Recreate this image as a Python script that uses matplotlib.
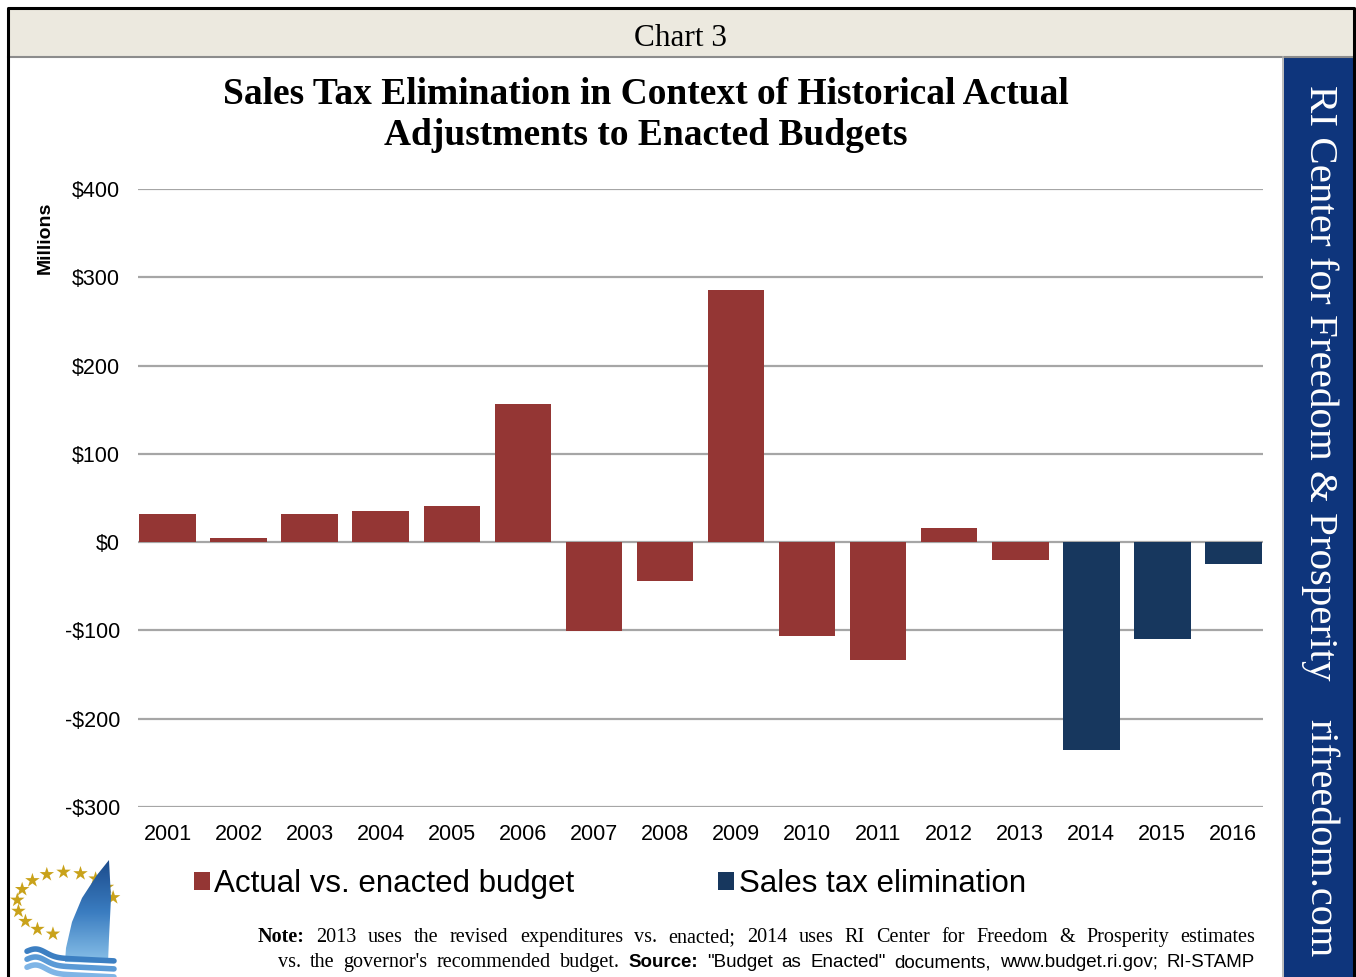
import numpy as np
import matplotlib.pyplot as plt
from matplotlib.patches import Rectangle, Polygon
from matplotlib.lines import Line2D
from matplotlib.colors import LinearSegmentedColormap

# Budget adjustments, millions of dollars
years = ["2001", "2002", "2003", "2004", "2005", "2006", "2007", "2008",
         "2009", "2010", "2011", "2012", "2013", "2014", "2015", "2016"]
actual_years = years[:13]
actual_vs_enacted = [32, 5, 32, 35, 41, 157, -101, -44, 286, -106, -134, 16, -20]
tax_years = years[13:]
sales_tax_elim = [-235, -110, -25]

y_ticks = [-300, -200, -100, 0, 100, 200, 300, 400]
y_labels = ["-$300", "-$200", "-$100", "$0", "$100", "$200", "$300", "$400"]

RED = "#943634"
NAVY = "#17375E"
BAND = "#0E357C"
HEADER = "#ECE9DF"
GOLD = "#C9A21A"

W, H = 1356, 977
fig = plt.figure(figsize=(W / 100, H / 100), dpi=100)
fig.patch.set_facecolor("white")


def fx(x):
    return x / W


def fy(y):
    return 1 - y / H


# frame, header strip and side band
fig.patches.append(Rectangle((fx(8), fy(57)), fx(1354) - fx(8), fy(8) - fy(57),
                             transform=fig.transFigure, facecolor=HEADER,
                             edgecolor="none", zorder=0))
fig.patches.append(Rectangle((fx(1284), 0), fx(1354) - fx(1284), fy(57),
                             transform=fig.transFigure, facecolor=BAND,
                             edgecolor="none", zorder=0))
fig.lines.append(Line2D([fx(8), fx(1354)], [fy(57), fy(57)], transform=fig.transFigure,
                        color="#8C8C8C", lw=1.5))
fig.lines.append(Line2D([fx(1283), fx(1283)], [0, fy(57)], transform=fig.transFigure,
                        color="#B0B0B0", lw=1.2))
fig.lines.append(Line2D([fx(8), fx(8), fx(1354), fx(1354)], [0, fy(8), fy(8), 0],
                        transform=fig.transFigure, color="black", lw=2.2))

fig.text(fx(680), fy(38), "Chart 3", ha="center", va="center",
         family="Liberation Serif", fontsize=22.5)

fig.text(fx(1320), fy(383), "RI Center for Freedom & Prosperity", rotation=-90,
         ha="center", va="center", color="white", family="Liberation Serif", fontsize=29.5)
fig.text(fx(1320), fy(838), "rifreedom.com", rotation=-90,
         ha="center", va="center", color="white", family="Liberation Serif", fontsize=29)

fig.text(fx(646), fy(115),
         "Sales Tax Elimination in Context of Historical Actual\nAdjustments to Enacted Budgets",
         ha="center", va="center", family="Liberation Serif", fontweight="bold",
         fontsize=27, linespacing=1.22)

# main chart
ax = fig.add_axes([fx(138), fy(807), fx(1263) - fx(138), fy(189) - fy(807)])
b1 = ax.bar(actual_years, actual_vs_enacted, width=0.8, color=RED, zorder=3)
b2 = ax.bar(tax_years, sales_tax_elim, width=0.8, color=NAVY, zorder=3)
ax.set_xlim(-0.42, 15.42)
ax.set_ylim(-300, 400)
ax.set_yticks(y_ticks, y_labels)
ax.yaxis.grid(True, color="#A6A6A6", lw=1.6, zorder=0)
ax.set_axisbelow(True)
for s in ax.spines.values():
    s.set_visible(False)
ax.tick_params(axis="both", length=0, labelsize=15.5)
ax.tick_params(axis="y", pad=13)
ax.tick_params(axis="x", pad=12)
for lab in ax.get_xticklabels() + ax.get_yticklabels():
    lab.set_family("Liberation Sans")

fig.text(fx(45), fy(238), "Millions", rotation=90, ha="center", va="center",
         family="Liberation Sans", fontweight="bold", fontsize=14)

fig.legend([b1, b2], ["Actual vs. enacted budget", "Sales tax elimination"],
           loc="center left", bbox_to_anchor=(fx(194), fy(884)), ncol=2,
           frameon=False, handlelength=0.5, handleheight=0.5,
           handletextpad=0.15, columnspacing=4.6, borderpad=0, borderaxespad=0,
           prop={"family": "Liberation Sans", "size": 22.5})

# footnote, justified between fixed margins
serif = {"family": "Liberation Serif", "fontsize": 14.5}
serif_b = {"family": "Liberation Serif", "fontsize": 14.5, "fontweight": "bold"}
narrow = {"family": ["Liberation Sans Narrow", "Liberation Sans"], "fontsize": 13.5}
narrow_b = {"family": ["Liberation Sans Narrow", "Liberation Sans"], "fontsize": 13.5,
            "fontweight": "bold"}


def justified_line(segments, x0, x1, y):
    renderer = fig.canvas.get_renderer()
    words = []
    for text, kw in segments:
        for w in text.split():
            words.append(fig.text(0, fy(y), w, va="baseline", **kw))
    widths = [t.get_window_extent(renderer).width for t in words]
    gap = (x1 - x0 - sum(widths)) / (len(words) - 1)
    x = x0
    for t, w in zip(words, widths):
        t.set_x(fx(x))
        x += w + gap


justified_line([("Note:", serif_b),
                ("2013 uses the revised expenditures vs. enacted; 2014 uses RI Center "
                 "for Freedom & Prosperity estimates", serif)], 258, 1255, 942)
justified_line([("vs. the governor's recommended budget.", serif),
                ("Source:", narrow_b),
                ('"Budget as Enacted" documents, www.budget.ri.gov; RI-STAMP', narrow)],
               278, 1255, 967)

# logo: ring of stars and a sail over waves
lax = fig.add_axes([fx(8), 0, fx(125) - fx(8), fy(852)])
ang = np.radians(np.linspace(255, 11, 13))
sx = 65.5 + 48.5 * np.cos(ang)
sy = 903.5 - 31.5 * np.sin(ang)
lax.scatter(sx, sy, marker="*", s=120, color=GOLD, edgecolor="none", zorder=2)
sail = Polygon([(109, 860), (97, 875), (82, 898), (72, 922), (66, 948), (65, 962),
                (108, 963), (109, 938), (111, 898)], closed=True,
               facecolor="none", edgecolor="none")
lax.add_patch(sail)
sail_cmap = LinearSegmentedColormap.from_list("sail", ["#1B4A8A", "#3A7CC0", "#8CC3EA"])
grad = np.linspace(0, 1, 100).reshape(-1, 1)
img = lax.imshow(grad, cmap=sail_cmap, extent=(60, 118, 965, 858),
                 aspect="auto", zorder=3)
img.set_clip_path(sail)
for k, c in enumerate(["#3C7FC2", "#5A9AD6", "#7FB5E6"]):
    wx = np.linspace(27, 114, 80)
    wy = 957 + 8 * k - 8 * np.exp(-((wx - 36) / 14) ** 2) + 0.05 * (wx - 36)
    lax.plot(wx, wy, color=c, lw=4, solid_capstyle="round", zorder=4)
lax.set_xlim(8, 125)
lax.set_ylim(977, 852)
lax.axis("off")

fig.savefig("out.png", dpi=100)
